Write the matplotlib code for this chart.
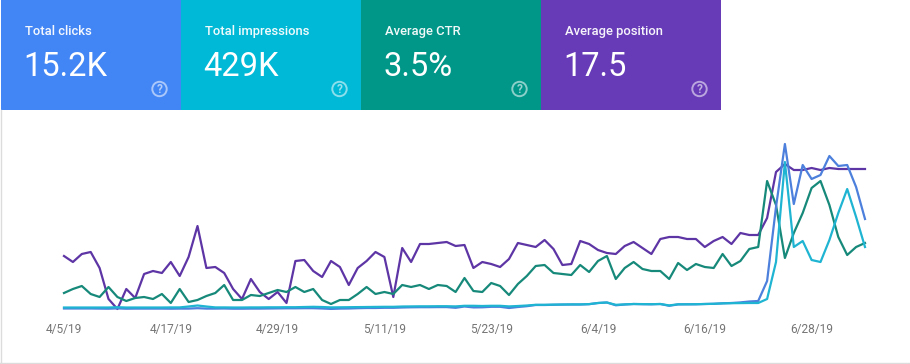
import matplotlib
matplotlib.use("Agg")
import matplotlib.pyplot as plt
from matplotlib.patches import Circle, Rectangle
import pandas as pd

plt.rcParams["font.family"] = ["Roboto", "DejaVu Sans"]

W, H = 910, 364

card_titles = ["Total clicks", "Total impressions", "Average CTR", "Average position"]
card_values = ["15.2K", "429K", "3.5%", "17.5"]
card_colors = ["#4285f4", "#00b9d6", "#009688", "#673ab7"]

dates = pd.date_range("2019-04-05", periods=91)
tick_labels = ["4/5/19", "4/17/19", "4/29/19", "5/11/19", "5/23/19", "6/4/19", "6/16/19", "6/28/19"]

position = [53, 47, 55, 57, 41, 10, 0, 20, 11, 35, 38, 36, 47, 33, 52, 83, 41, 42, 36, 20,
            10, 30, 17, 10, 17, 6, 48, 49, 38, 32, 48, 42, 24, 41, 48, 57, 52, 12, 61, 47,
            65, 65, 66, 67, 63, 64, 41, 47, 45, 42, 50, 66, 64, 62, 69, 60, 44, 45, 68, 65,
            59, 56, 55, 63, 67, 61, 55, 70, 72, 72, 70, 70, 62, 68, 72, 65, 76, 74, 74, 91,
            137, 145, 139, 139, 141, 139, 141, 140, 140, 140, 140]
ctr = [16, 20, 23, 15, 12, 22, 12, 8, 11, 12, 10, 15, 6, 20, 7, 9, 13, 16, 24, 9,
       9, 14, 13, 16, 19, 17, 22, 17, 20, 9, 5, 9, 9, 15, 22, 15, 17, 15, 24, 22,
       24, 20, 24, 23, 17, 31, 18, 17, 26, 23, 14, 25, 33, 43, 44, 36, 35, 34, 44, 37,
       48, 53, 30, 41, 47, 40, 38, 38, 30, 46, 39, 45, 42, 41, 55, 43, 48, 60, 62, 128,
       104, 51, 76, 96, 121, 128, 104, 72, 54, 62, 66]
clicks = [0.5, 0.5, 0.5, 0.5, 0.4, 0.3, 0.6, 0.3, 0.4, 0.4, 0.4, 0.4, 0.3, 0.4, 0.4, 0.8, 0.4, 0.4, 0.5, 0.3,
          0.3, 0.4, 0.4, 0.5, 0.6, 0.7, 0.7, 0.8, 0.8, 0.5, 0.1, 0.4, 0.5, 0.8, 1, 1, 1.2, 1.2, 1.5, 1.7,
          1.8, 1.8, 1.9, 1.9, 1.2, 2.5, 1.6, 1.7, 2.2, 2.2, 1.0, 2.0, 2.8, 4, 4, 4.2, 4.4, 4.5, 4.5, 4.8,
          6, 6.5, 3.7, 4.5, 5, 4.8, 4.7, 5, 3.2, 4.6, 4.7, 4.7, 5, 5.2, 5.7, 6, 6.6, 7.5, 8, 28,
          102, 165, 105, 144, 130, 134, 153, 143, 144, 122, 90]
impressions = [1.5, 1.5, 1.5, 1.5, 1.5, 1.5, 1.8, 1.5, 1.5, 1.5, 1.5, 1.5, 1.6, 1.6, 2.5, 3.5, 2.5, 1.6, 1.6, 1.5,
               1.5, 1.6, 1.6, 1.7, 1.7, 1.8, 1.8, 2, 2.2, 2, 1.6, 1.7, 1.8, 1.9, 2, 2.1, 2.2, 2.2, 2.5, 2.6,
               2.7, 2.7, 2.8, 2.8, 2.6, 3.2, 3.2, 3, 3.2, 3.2, 2.6, 3, 3.5, 4.2, 4.2, 4.4, 4.5, 4.6, 4.6, 4.9,
               6, 6.5, 4.2, 4.6, 5, 4.9, 4.8, 5, 3.6, 4.7, 4.7, 4.8, 5, 5.2, 5.6, 5.8, 5.9, 6, 6, 10,
               47, 147, 62, 68, 49, 47, 69, 96, 120, 92, 62]

fig = plt.figure(figsize=(W / 100, H / 100), dpi=100, facecolor="white")

# header cards and frame, drawn in pixel coordinates
bg = fig.add_axes([0, 0, 1, 1])
bg.set_xlim(0, W)
bg.set_ylim(H, 0)
bg.axis("off")
bg.plot([0.5, 0.5], [110, 364], color="#dcdcdc", lw=1)
bg.plot([0, W], [362.5, 362.5], color="#dcdcdc", lw=1)

for i in range(4):
    x0 = 1 + i * 180
    bg.add_patch(Rectangle((x0, 0), 180, 109.5, color=card_colors[i], lw=0))
    bg.text(x0 + 24, 31.5, card_titles[i], color="white", fontsize=9.4, fontweight="medium", alpha=0.95, va="center")
    bg.text(x0 + 22.5, 67, card_values[i], color="white", fontsize=23.5, va="center")
    bg.add_patch(Circle((x0 + 158.5, 89), 7.2, fill=False, ec="white", alpha=0.55, lw=1.4))
    bg.text(x0 + 158.5, 89.5, "?", color="white", alpha=0.6, fontsize=8.5, fontweight="bold", ha="center", va="center")

ax = fig.add_axes([64 / W, (H - 309) / H, 801 / W, 170 / H])
ax.set_xlim(dates[0], dates[-1])
ax.set_ylim(0, 170)
ax.patch.set_alpha(0)
for s in ax.spines.values():
    s.set_visible(False)

ax.plot(dates, position, color="#5e35a5", lw=1.6, clip_on=False)
ax.plot(dates, ctr, color="#17897a", lw=1.6, clip_on=False)
ax.plot(dates, clicks, color="#4c80dc", lw=1.6, clip_on=False)
ax.plot(dates, impressions, color="#1fb4d2", lw=1.6, clip_on=False)

ax.set_yticks([])
ax.set_xticks(dates[::12][:len(tick_labels)])
ax.set_xticklabels(tick_labels, color="#757575", fontsize=8.6)
ax.tick_params(axis="x", length=0, pad=10)

fig.savefig("out.png", dpi=100)
